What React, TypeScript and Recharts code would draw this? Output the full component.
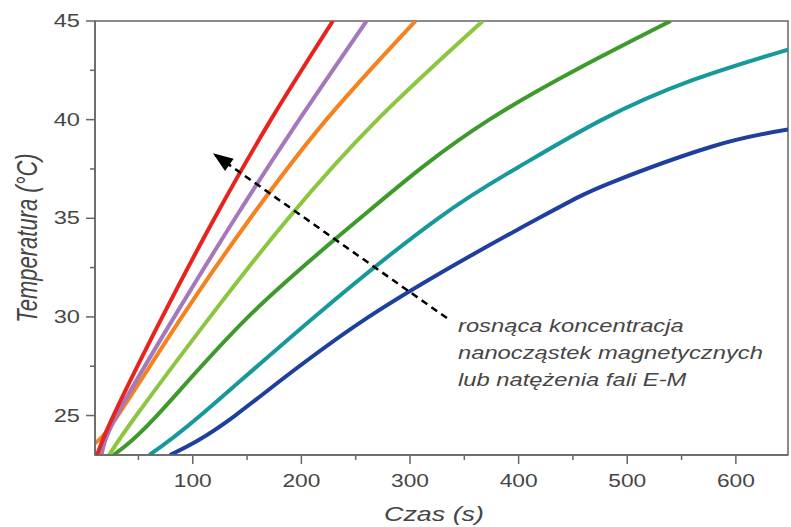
import React from "react";
import { LineChart, Line, XAxis, YAxis, ReferenceArea } from "recharts";

// ---- data (time in s, temperature in °C) ----
const redTime = [12, 27, 72, 120, 172, 229];
const redTemp = [23, 25, 30, 35, 40, 45];

const purpleTime = [16, 30, 83, 139, 198, 260];
const purpleTemp = [23, 25, 30, 35, 40, 45];

const orangeTime = [10, 31, 90, 153, 223, 305];
const orangeTemp = [23.6, 25, 30, 35, 40, 45];

const lightGreenTime = [23, 48, 116, 188, 270, 367];
const lightGreenTemp = [23, 25, 30, 35, 40, 45];

const darkGreenTime = [27, 67, 151, 254, 373, 540];
const darkGreenTemp = [23, 25, 30, 35, 40, 45];

const tealTime = [60, 107, 212, 326, 400, 477, 560, 648];
const tealTemp = [23, 25, 30, 35, 37.6, 40, 42.0, 43.55];

const blueTime = [79, 139, 262, 420, 487, 579, 648];
const blueTemp = [23, 25, 30, 35.05, 36.85, 38.65, 39.5];

const arrowTime = [334, 118.6];
const arrowTemp = [29.94, 38.29];

const xTicks = [50, 100, 150, 200, 250, 300, 350, 400, 450, 500, 550, 600];
const yTicks = [25, 27.5, 30, 32.5, 35, 37.5, 40, 42.5, 45];

const annotationLines = [
  "rosnąca koncentracja",
  "nanocząstek magnetycznych",
  "lub natężenia fali E-M",
];

const xTitle = "Czas (s)";
const yTitle = "Temperatura (°C)";

const toPoints = (t: number[], v: number[]) => t.map((x, i) => ({ t: x, v: v[i] }));

const series = [
  { name: "blue", color: "#1f3f9c", data: toPoints(blueTime, blueTemp) },
  { name: "teal", color: "#17989a", data: toPoints(tealTime, tealTemp) },
  { name: "darkGreen", color: "#3d9a2b", data: toPoints(darkGreenTime, darkGreenTemp) },
  { name: "lightGreen", color: "#8cc63f", data: toPoints(lightGreenTime, lightGreenTemp) },
  { name: "orange", color: "#f5821f", data: toPoints(orangeTime, orangeTemp) },
  { name: "purple", color: "#a577bb", data: toPoints(purpleTime, purpleTemp) },
  { name: "red", color: "#e8221d", data: toPoints(redTime, redTemp) },
];

const arrowData = toPoints(arrowTime, arrowTemp);

const FONT = "'Liberation Sans', Arial, Helvetica, sans-serif";
const AXIS = "#666";
const TEXT = "#464646";

function XTick(props: any) {
  const { x, y, payload } = props;
  const major = payload.value % 100 === 0;
  return (
    <g>
      <line x1={x} y1={y} x2={x} y2={y + (major ? 9 : 5)} stroke={AXIS} strokeWidth={1.5} />
      {major && (
        <text
          transform={`translate(${x},${y + 32}) scale(1.3,1)`}
          textAnchor="middle"
          fontSize={17.5}
          fontFamily={FONT}
          fill={TEXT}
        >
          {payload.value}
        </text>
      )}
    </g>
  );
}

function YTick(props: any) {
  const { x, y, payload } = props;
  const major = payload.value % 5 === 0;
  return (
    <g>
      <line x1={x} y1={y} x2={x - (major ? 9 : 5)} y2={y} stroke={AXIS} strokeWidth={1.5} />
      {major && (
        <text
          transform={`translate(${x - 15},${y + 6}) scale(1.35,1)`}
          textAnchor="end"
          fontSize={17.5}
          fontFamily={FONT}
          fill={TEXT}
        >
          {payload.value}
        </text>
      )}
    </g>
  );
}

function ArrowHead(props: any) {
  const { cx, cy, index } = props;
  if (index !== 1 || cx == null || cy == null) return <g key={`ah-${index}`} />;
  return (
    <g key={`ah-${index}`} transform={`translate(${cx},${cy}) rotate(215)`}>
      <polygon points="0,0 -20,-7.5 -20,7.5" fill="#000" />
    </g>
  );
}

export default function App() {
  return (
    <div style={{ position: "absolute", left: 0, top: 0, background: "#fff" }}>
      <LineChart
        width={791}
        height={527}
        margin={{ top: 21, right: 3, left: 0, bottom: 0 }}
      >
        <XAxis
          type="number"
          dataKey="t"
          domain={[10, 648]}
          allowDataOverflow
          ticks={xTicks}
          interval={0}
          height={72}
          tickSize={0}
          tickMargin={0}
          tickLine={false}
          axisLine={{ stroke: AXIS, strokeWidth: 1.5 }}
          tick={<XTick />}
        />
        <YAxis
          type="number"
          dataKey="v"
          domain={[23, 45]}
          allowDataOverflow
          ticks={yTicks}
          interval={0}
          width={95}
          tickSize={0}
          tickMargin={0}
          tickLine={false}
          axisLine={{ stroke: AXIS, strokeWidth: 1.5 }}
          tick={<YTick />}
        />
        <ReferenceArea
          x1={10}
          x2={648}
          y1={23}
          y2={45}
          fill="none"
          fillOpacity={0}
          stroke={AXIS}
          strokeWidth={1.5}
          ifOverflow="visible"
        />
        {series.map((s) => (
          <Line
            key={s.name}
            data={s.data}
            dataKey="v"
            type="natural"
            stroke={s.color}
            strokeWidth={4}
            dot={false}
            activeDot={false}
            isAnimationActive={false}
          />
        ))}
        <Line
          data={arrowData}
          dataKey="v"
          type="linear"
          stroke="#000"
          strokeWidth={2.5}
          strokeDasharray="7 5"
          dot={<ArrowHead />}
          activeDot={false}
          isAnimationActive={false}
        />
        <text
          transform="translate(434,521) scale(1.28,1)"
          textAnchor="middle"
          fontSize={21}
          fontStyle="italic"
          fontFamily={FONT}
          fill={TEXT}
        >
          {xTitle}
        </text>
        <text
          transform="translate(37,238) rotate(-90) scale(1,1.3)"
          textAnchor="middle"
          fontSize={22}
          fontStyle="italic"
          fontFamily={FONT}
          fill={TEXT}
        >
          {yTitle}
        </text>
        {annotationLines.map((line, i) => (
          <text
            key={i}
            transform={`translate(458,${332 + i * 27}) scale(1.25,1)`}
            fontSize={19}
            fontStyle="italic"
            fontFamily={FONT}
            fill={TEXT}
          >
            {line}
          </text>
        ))}
      </LineChart>
    </div>
  );
}
